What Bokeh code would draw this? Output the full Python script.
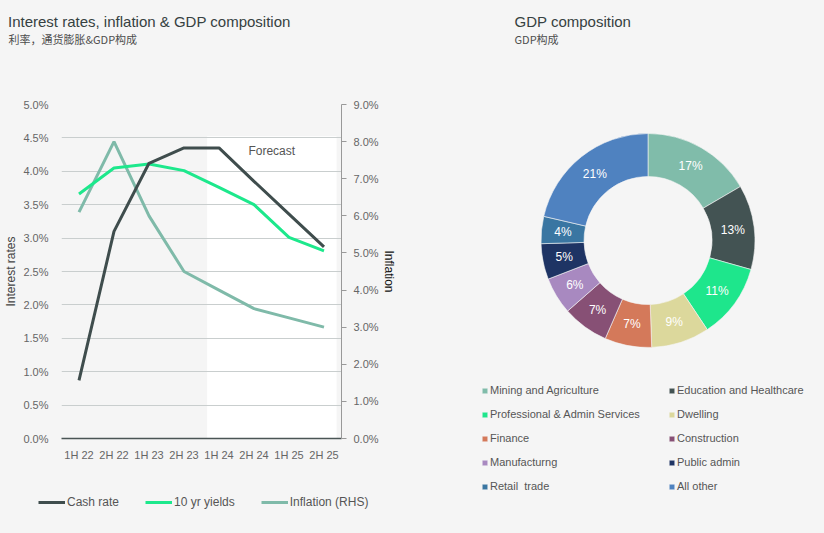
import math
from bokeh.plotting import figure
from bokeh.models import (Range1d, FactorRange, LinearAxis, FixedTicker, PrintfTickFormatter,
                          BoxAnnotation, Label, Legend, LegendItem, ColumnDataSource)
from bokeh.layouts import row, column
from bokeh.embed import file_html
from bokeh.resources import INLINE
from bokeh.core.properties import value

# ---------------- data ----------------
periods = ["1H 22", "2H 22", "1H 23", "2H 23", "1H 24", "2H 24", "1H 25", "2H 25"]
cash_rate = [0.87, 3.10, 4.12, 4.35, 4.35, 3.85, 3.36, 2.87]
ten_yr_yields = [3.66, 4.05, 4.11, 4.01, 3.76, 3.50, 3.01, 2.81]
inflation = [6.1, 8.0, 6.0, 4.5, 4.0, 3.5, 3.25, 3.0]
forecast_start = "1H 24"
left_ticks = [0.0, 0.5, 1.0, 1.5, 2.0, 2.5, 3.0, 3.5, 4.0, 4.5, 5.0]
right_ticks = [0, 1, 2, 3, 4, 5, 6, 7, 8, 9]
series_names = ["Cash rate", "10 yr yields", "Inflation (RHS)"]
series_cols = ["cash", "ten", "infl"]

sectors = ["Mining and Agriculture", "Education and Healthcare", "Professional & Admin Services",
           "Dwelling", "Finance", "Construction", "Manufacturng", "Public admin",
           "Retail  trade", "All other"]
shares = [16.6, 12.8, 11.3, 8.8, 7.1, 7.0, 5.6, 5.4, 4.1, 21.4]
sector_colors = ["#80bcaa", "#435353", "#1ee68c", "#dcd89c", "#d4795a",
                 "#875075", "#a889c0", "#1e3464", "#3a76a2", "#4f82c0"]

# ---------------- style ----------------
FONT = "Liberation Sans"
CJK = "Noto Sans CJK SC"
BG = "#f5f5f5"
TITLE_C = "#364141"
TEXT_C = "#555555"
TICK_C = "#666666"
SERIES_C = ["#3f4d4d", "#1de88c", "#7fbaa9"]


def blank(width, height, xr, yr):
    f = figure(width=width, height=height, x_range=xr, y_range=yr,
               output_backend="svg", toolbar_location=None, title=None,
               x_axis_location=None, y_axis_location=None,
               min_border=0, min_border_left=0, min_border_right=0,
               min_border_top=0, min_border_bottom=0,
               background_fill_color=BG, border_fill_color=BG, outline_line_color=None)
    f.grid.visible = False
    return f


src = ColumnDataSource(dict(period=periods, cash=cash_rate, ten=ten_yr_yields, infl=inflation))

# ---------------- left titles ----------------
tf = blank(430, 52, Range1d(0, 430), Range1d(0, 52))
tf.add_layout(Label(x=7.5, y=31, text="Interest rates, inflation & GDP composition",
                    text_font=FONT, text_font_size="15px", text_color=TITLE_C,
                    text_baseline="alphabetic"))
tf.add_layout(Label(x=8, y=14, text="利率，通货膨胀&GDP构成", text_font=CJK,
                    text_font_size="11px", text_color="#4d4d4d", text_baseline="alphabetic"))

# ---------------- left chart ----------------
p = figure(width=430, height=428, x_range=FactorRange(*periods), y_range=Range1d(0, 5),
           output_backend="svg", toolbar_location=None, title=None,
           min_border_left=61, min_border_right=89, min_border_top=52, min_border_bottom=42,
           background_fill_color=BG, border_fill_color=BG, outline_line_color=None)
p.extra_y_ranges = {"infl": Range1d(0, 9)}

ya = p.yaxis[0]
ya.ticker = FixedTicker(ticks=left_ticks)
ya.formatter = PrintfTickFormatter(format="%.1f%%")
ya.axis_line_color = None
ya.major_tick_line_color = None
ya.major_tick_out = 0
ya.major_tick_in = 0
ya.minor_tick_line_color = None
ya.major_label_standoff = 13
ya.major_label_text_font = FONT
ya.major_label_text_font_size = "11px"
ya.major_label_text_color = TICK_C
ya.axis_label = "Interest rates"
ya.axis_label_text_font = FONT
ya.axis_label_text_font_size = "12px"
ya.axis_label_text_font_style = "normal"
ya.axis_label_text_color = "#444444"
ya.axis_label_standoff = 2

ra = LinearAxis(y_range_name="infl", ticker=FixedTicker(ticks=right_ticks),
                formatter=PrintfTickFormatter(format="%.1f%%"), axis_label="Inflation")
ra.axis_line_color = "#999999"
ra.major_tick_line_color = "#999999"
ra.major_tick_out = 5
ra.major_tick_in = 0
ra.minor_tick_line_color = None
ra.major_label_standoff = 7
ra.major_label_text_font = FONT
ra.major_label_text_font_size = "11px"
ra.major_label_text_color = TICK_C
ra.axis_label_text_font = FONT
ra.axis_label_text_font_size = "12px"
ra.axis_label_text_font_style = "normal"
ra.axis_label_text_color = "#111111"
ra.axis_label_standoff = 0
p.add_layout(ra, "right")

xa = p.xaxis[0]
xa.axis_line_color = "#4a5555"
xa.axis_line_width = 1.5
xa.major_tick_line_color = None
xa.major_tick_out = 0
xa.major_tick_in = 0
xa.minor_tick_line_color = None
xa.major_label_standoff = 10
xa.major_label_text_font = FONT
xa.major_label_text_font_size = "11px"
xa.major_label_text_color = TICK_C

p.xgrid.grid_line_color = None
p.ygrid.ticker = FixedTicker(ticks=left_ticks)
p.ygrid.grid_line_color = "#c9cece"
p.ygrid.grid_line_width = 1

fc = periods.index(forecast_start)
box = BoxAnnotation(left=fc + 0.16, right=len(periods) - 0.14, top=4.525, bottom=-0.49,
                    fill_color="white", fill_alpha=1.0, line_color=None, level="image")
p.add_layout(box)
p.add_layout(Label(x=fc + 1.34, y=4.31, text="Forecast", text_font=FONT, text_font_size="12px",
                   text_color=TEXT_C, text_baseline="middle"))

p.line("period", "infl", source=src, y_range_name="infl", line_color=SERIES_C[2], line_width=3)
p.line("period", "ten", source=src, line_color=SERIES_C[1], line_width=3)
p.line("period", "cash", source=src, line_color=SERIES_C[0], line_width=3)

# ---------------- left legend (proxy lines kept outside the visible range) ----------------
lf = blank(430, 53, FactorRange(*periods), Range1d(100, 153))
key_items = []
for name, colname, col in zip(series_names, series_cols, SERIES_C):
    kr = lf.line("period", colname, source=src, line_color=col, line_width=3)
    key_items.append(LegendItem(label=name, renderers=[kr]))
leg = Legend(items=key_items, orientation="horizontal", location=(38, 24), glyph_width=27,
             glyph_height=14, label_height=14, label_standoff=2, spacing=26, padding=0, margin=0,
             border_line_color=None, background_fill_alpha=0,
             label_text_font=FONT, label_text_font_size="12px", label_text_color=TEXT_C)
lf.add_layout(leg, "center")

# ---------------- right chart (donut) ----------------
q = blank(394, 533, Range1d(-217.5, 176.5), Range1d(-293, 240))

total = sum(shares)
starts, ends, lx, ly, labels = [], [], [], [], []
cum = 0.0
for s in shares:
    a0 = math.pi / 2 - 2 * math.pi * cum / total
    cum += s
    a1 = math.pi / 2 - 2 * math.pi * cum / total
    starts.append(a1)
    ends.append(a0)
    mid = (a0 + a1) / 2
    lx.append(85.5 * math.cos(mid))
    ly.append(85.5 * math.sin(mid))
    labels.append(f"{round(s)}%")

dsrc = ColumnDataSource(dict(sector=sectors, start=starts, end=ends, color=sector_colors,
                             lx=lx, ly=ly, label=labels))
w = q.annular_wedge(x=0, y=0, inner_radius=64, outer_radius=107, start_angle="start",
                    end_angle="end", fill_color="color", line_color=BG, line_width=0.6,
                    source=dsrc)
q.text(x="lx", y="ly", text="label", source=dsrc, text_color="white", text_font=value(FONT),
       text_font_size="12px", text_align="center", text_baseline="middle")

col1 = [LegendItem(label=sectors[i], renderers=[w], index=i) for i in range(0, 10, 2)]
col2 = [LegendItem(label=sectors[i], renderers=[w], index=i) for i in range(1, 10, 2)]
for items, xloc in ((col1, 51), (col2, 238)):
    lg = Legend(items=items, orientation="vertical", location=(xloc, 40),
                glyph_width=7, glyph_height=7, label_height=14, label_standoff=2, spacing=10,
                padding=0, margin=0, border_line_color=None, background_fill_alpha=0,
                label_text_font=FONT, label_text_font_size="11px", label_text_color=TEXT_C)
    q.add_layout(lg, "center")

q.add_layout(Label(x=-133.5, y=219, text="GDP composition", text_font=FONT,
                   text_font_size="15px", text_color=TITLE_C, text_baseline="alphabetic"))
q.add_layout(Label(x=-133.5, y=202, text="GDP构成", text_font=CJK,
                   text_font_size="11px", text_color="#4d4d4d", text_baseline="alphabetic"))

left = column(column(tf), column(p), column(lf))
layout = row(left, column(q))
html = file_html(layout, INLINE)
html = html.replace("</head>", "<style>html,body{background:#f5f5f5;}</style></head>", 1)
open("out.html", "w").write(html)
